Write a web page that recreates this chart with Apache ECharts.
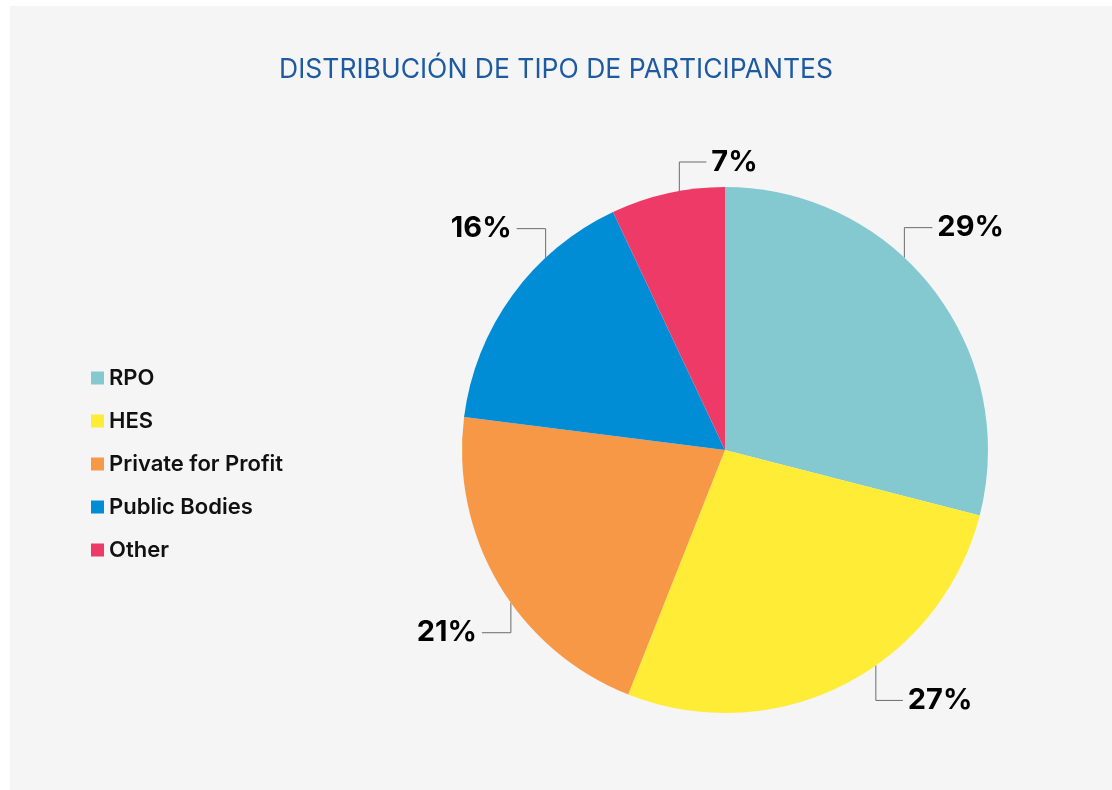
<!DOCTYPE html>
<html>
<head>
<meta charset="utf-8">
<script src="https://cdn.jsdelivr.net/npm/echarts@6/dist/echarts.min.js"></script>
<style>
  html, body { margin: 0; padding: 0; background: #ffffff; }
  #bg { position: absolute; left: 10px; top: 6px; width: 1102px; height: 784px; background: #f5f5f5; }
  #chart { position: absolute; left: 0; top: 0; width: 1112px; height: 790px; }
</style>
</head>
<body>
<div id="bg"></div>
<div id="chart"></div>
<script>
const titleText = 'DISTRIBUCIÓN DE TIPO DE PARTICIPANTES';
const categories = ['RPO', 'HES', 'Private for Profit', 'Public Bodies', 'Other'];
const values = [29, 27, 21, 16, 7];
const colors = ['#84c8d0', '#ffec36', '#f79846', '#008dd6', '#ee3a66'];

// label-line layout (angle clockwise from 12 o'clock, vertical rise, horizontal run)
const anchorAngles = [43, 145, 234.5, 317, 350];
const rises = [-30, 35, 30, -29, -29];
const runs = [28, 27, -29, -29, 27];
const CX = 725, CY = 450, R = 263;

const chart = echarts.init(document.getElementById('chart'), null, { renderer: 'canvas' });
chart.setOption({
  animation: false,
  backgroundColor: 'transparent',
  title: {
    text: titleText,
    left: 'center',
    top: 52,
    textStyle: { fontFamily: 'Inter', fontSize: 26.5, fontWeight: 'normal', color: '#1d5aa2' }
  },
  legend: {
    orient: 'vertical',
    left: 91,
    top: 367,
    padding: 0,
    icon: 'rect',
    itemWidth: 13,
    itemHeight: 13,
    itemGap: 21,
    textStyle: { fontFamily: 'Inter', fontSize: 22, fontWeight: 600, color: '#111111', lineHeight: 22 },
    data: categories
  },
  series: [{
    type: 'pie',
    center: [CX, CY],
    radius: R,
    startAngle: 90,
    clockwise: true,
    emphasis: { disabled: true },
    data: categories.map((c, i) => ({ name: c, value: values[i], itemStyle: { color: colors[i] } })),
    label: {
      show: true,
      position: 'outside',
      formatter: '{c}%',
      fontFamily: 'Inter',
      fontSize: 29,
      fontWeight: 'bold',
      color: '#000000'
    },
    labelLine: { show: true, lineStyle: { color: '#6b6b6b', width: 1 } },
    labelLayout: function (p) {
      const i = p.dataIndex;
      const a = anchorAngles[i] * Math.PI / 180;
      const x0 = CX + R * Math.sin(a);
      const y0 = CY - R * Math.cos(a);
      const y1 = y0 + rises[i];
      const x2 = x0 + runs[i];
      const right = runs[i] > 0;
      return {
        x: x2 + (right ? 5 : -5),
        y: y1,
        align: right ? 'left' : 'right',
        verticalAlign: 'middle',
        labelLinePoints: [[x0, y0], [x0, y1], [x2, y1]]
      };
    }
  }]
});
</script>
</body>
</html>
